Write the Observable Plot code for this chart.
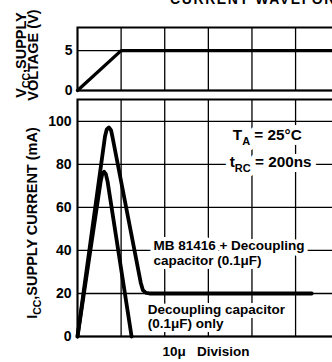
<!DOCTYPE html>
<html><head><meta charset="utf-8">
<script src="https://cdn.jsdelivr.net/npm/d3@7"></script>
<script src="https://cdn.jsdelivr.net/npm/@observablehq/plot@0.6"></script>
<style>
html,body{margin:0;padding:0;background:#fff;overflow:hidden;}
#wrap{position:relative;width:332px;height:362px;overflow:hidden;background:#fff;font-family:"Liberation Sans",Arial,Helvetica,sans-serif;}
#title{position:absolute;left:170px;top:-9px;font-weight:bold;font-size:14px;letter-spacing:1.6px;white-space:nowrap;color:#000;}
#top{position:absolute;left:0;top:0;width:340px;}
#bottom{position:absolute;left:0;top:95px;width:340px;}
#wrap svg{max-width:none !important;display:block;}
svg text{white-space:pre;}
</style></head><body>
<div id="wrap"><div id="title">CURRENT WAVEFORM</div><div id="top"></div><div id="bottom"></div></div>
<script>
// ---- data (x in 10µs divisions) ----
const divisions = [0, 1, 2, 3, 4, 5];
const voltageTicks = [0, 5];
const currentTicks = [0, 20, 40, 60, 80, 100];

const vccTime = [0, 1, 6];
const vccVolts = [0, 5, 5];

// MB 81416 + decoupling capacitor (0.1µF)
const chipTime = [0, 0.63, 0.67, 0.72, 0.77, 0.80, 1.45, 1.50, 1.57, 1.65, 5.37];
const chipCurrent = [0, 93, 96.3, 97.2, 95.8, 93, 25, 21.5, 20.3, 20, 20];

// decoupling capacitor (0.1µF) only
const capTime = [0, 0.53, 0.57, 0.61, 0.65, 0.69, 1.24];
const capCurrent = [0, 72, 75.7, 76.6, 75.5, 72, 0];

const condText = ["T_A = 25°C", "t_RC = 200ns"];
const condTime = [3.56, 3.49];
const condLevel = [93.5, 81];

const noteText = ["MB 81416 + Decoupling", "capacitor (0.1μF)", "Decoupling capacitor", "(0.1μF) only"];
const noteTime = [1.74, 1.74, 1.61, 1.61];
const noteLevel = [42.2, 35.2, 12.4, 5.8];

const vTitle = ["V_CC,SUPPLY", "VOLTAGE (V)"];
const iTitle = "I_CC,SUPPLY CURRENT (mA)";
const xCaption = "10μ\u00a0\u00a0\u00a0Division";

// ---- build tables ----
const vcc = vccTime.map((t, i) => ({t, v: vccVolts[i]}));
const chip = chipTime.map((t, i) => ({t, v: chipCurrent[i]}));
const cap = capTime.map((t, i) => ({t, v: capCurrent[i]}));
const conds = condText.map((s, i) => ({s, t: condTime[i], v: condLevel[i]}));
const notes = noteText.map((s, i) => ({s, t: noteTime[i], v: noteLevel[i]}));

const FONT = '"Liberation Sans", Arial, Helvetica, sans-serif';
const W = 340;
const xDomain = [0, 6.03];
const gridStyle = {stroke: "black", strokeOpacity: 1, strokeWidth: 1.3};
const baseStyle = {fontFamily: FONT, fontSize: "14px", fontWeight: "bold", color: "black", background: "transparent", overflow: "visible", maxWidth: "none"};

function subscripts(svg) {
  const NS = "http://www.w3.org/2000/svg";
  svg.querySelectorAll("text").forEach(t => {
    const leaves = t.querySelector("tspan") ? Array.from(t.querySelectorAll("tspan")) : [t];
    leaves.forEach(el => {
      const s = el.textContent;
      if (!s.includes("_")) return;
      const parts = s.split(/_([A-Za-z]+)/);
      el.textContent = "";
      parts.forEach((p, i) => {
        if (!p) return;
        const ts = document.createElementNS(NS, "tspan");
        ts.textContent = p;
        if (i % 2 === 1) {
          ts.setAttribute("font-size", "72%");
          ts.setAttribute("dy", "0.4em");
        } else if (i > 0) {
          ts.setAttribute("dy", "-0.288em");
        }
        el.appendChild(ts);
      });
    });
  });
}

// ---- top panel: supply voltage ----
const topPlot = Plot.plot({
  width: W, height: 95,
  marginLeft: 77, marginRight: 0, marginTop: 27, marginBottom: 5,
  style: baseStyle,
  x: {domain: xDomain, axis: null},
  y: {domain: [0, 7.9]},
  marks: [
    Plot.gridX(divisions, gridStyle),
    Plot.gridY(voltageTicks, gridStyle),
    Plot.frame({stroke: "black", strokeWidth: 2}),
    Plot.line(vcc, {x: "t", y: "v", stroke: "black", strokeWidth: 3.3, strokeLinejoin: "round", strokeLinecap: "round"}),
    Plot.axisY(voltageTicks, {tickSize: 0, tickPadding: 5, label: null, fontSize: 14}),
    Plot.text([vTitle[0]], {frameAnchor: "left", textAnchor: "middle", text: d => d, rotate: -90, dx: -56, dy: -4, fontSize: 14.5, fill: "black"}),
    Plot.text([vTitle[1]], {frameAnchor: "left", textAnchor: "middle", text: d => d, rotate: -90, dx: -44.5, dy: -4, fontSize: 14.5, fill: "black"})
  ]
});
subscripts(topPlot);
document.getElementById("top").appendChild(topPlot);

// ---- bottom panel: supply current ----
const noteOpts = {x: "t", y: "v", text: "s", textAnchor: "start", fontSize: 13.5};
const condOpts = {x: "t", y: "v", text: "s", textAnchor: "start", fontSize: 15.3};
const bottomPlot = Plot.plot({
  width: W, height: 267,
  marginLeft: 77, marginRight: 0, marginTop: 4, marginBottom: 26,
  style: baseStyle,
  x: {domain: xDomain, axis: null},
  y: {domain: [0, 110.2]},
  marks: [
    Plot.gridX(divisions, gridStyle),
    Plot.gridY(currentTicks, gridStyle),
    Plot.frame({stroke: "black", strokeWidth: 2}),
    // white knock-out behind annotations, then the text itself
    Plot.text(notes, {...noteOpts, fill: "white", stroke: "white", strokeWidth: 8}),
    Plot.text(conds, {...condOpts, fill: "white", stroke: "white", strokeWidth: 10}),
    Plot.text(notes, {...noteOpts, fill: "black"}),
    Plot.text(conds, {...condOpts, fill: "black"}),
    Plot.line(cap, {x: "t", y: "v", stroke: "black", strokeWidth: 3.8, strokeLinejoin: "round", strokeLinecap: "round"}),
    Plot.line(chip, {x: "t", y: "v", stroke: "black", strokeWidth: 3.8, strokeLinejoin: "round", strokeLinecap: "round"}),
    Plot.axisY(currentTicks, {tickSize: 0, tickPadding: 6, label: null, fontSize: 14}),
    Plot.text([iTitle], {frameAnchor: "left", textAnchor: "middle", text: d => d, rotate: -90, dx: -45.5, dy: 5, fontSize: 14.5, fill: "black"}),
    Plot.text([xCaption], {frameAnchor: "bottom", text: d => d, dx: -3, dy: 15, lineAnchor: "middle", fontSize: 13.5, fill: "black"})
  ]
});
subscripts(bottomPlot);
document.getElementById("bottom").appendChild(bottomPlot);
</script>
</body></html>
